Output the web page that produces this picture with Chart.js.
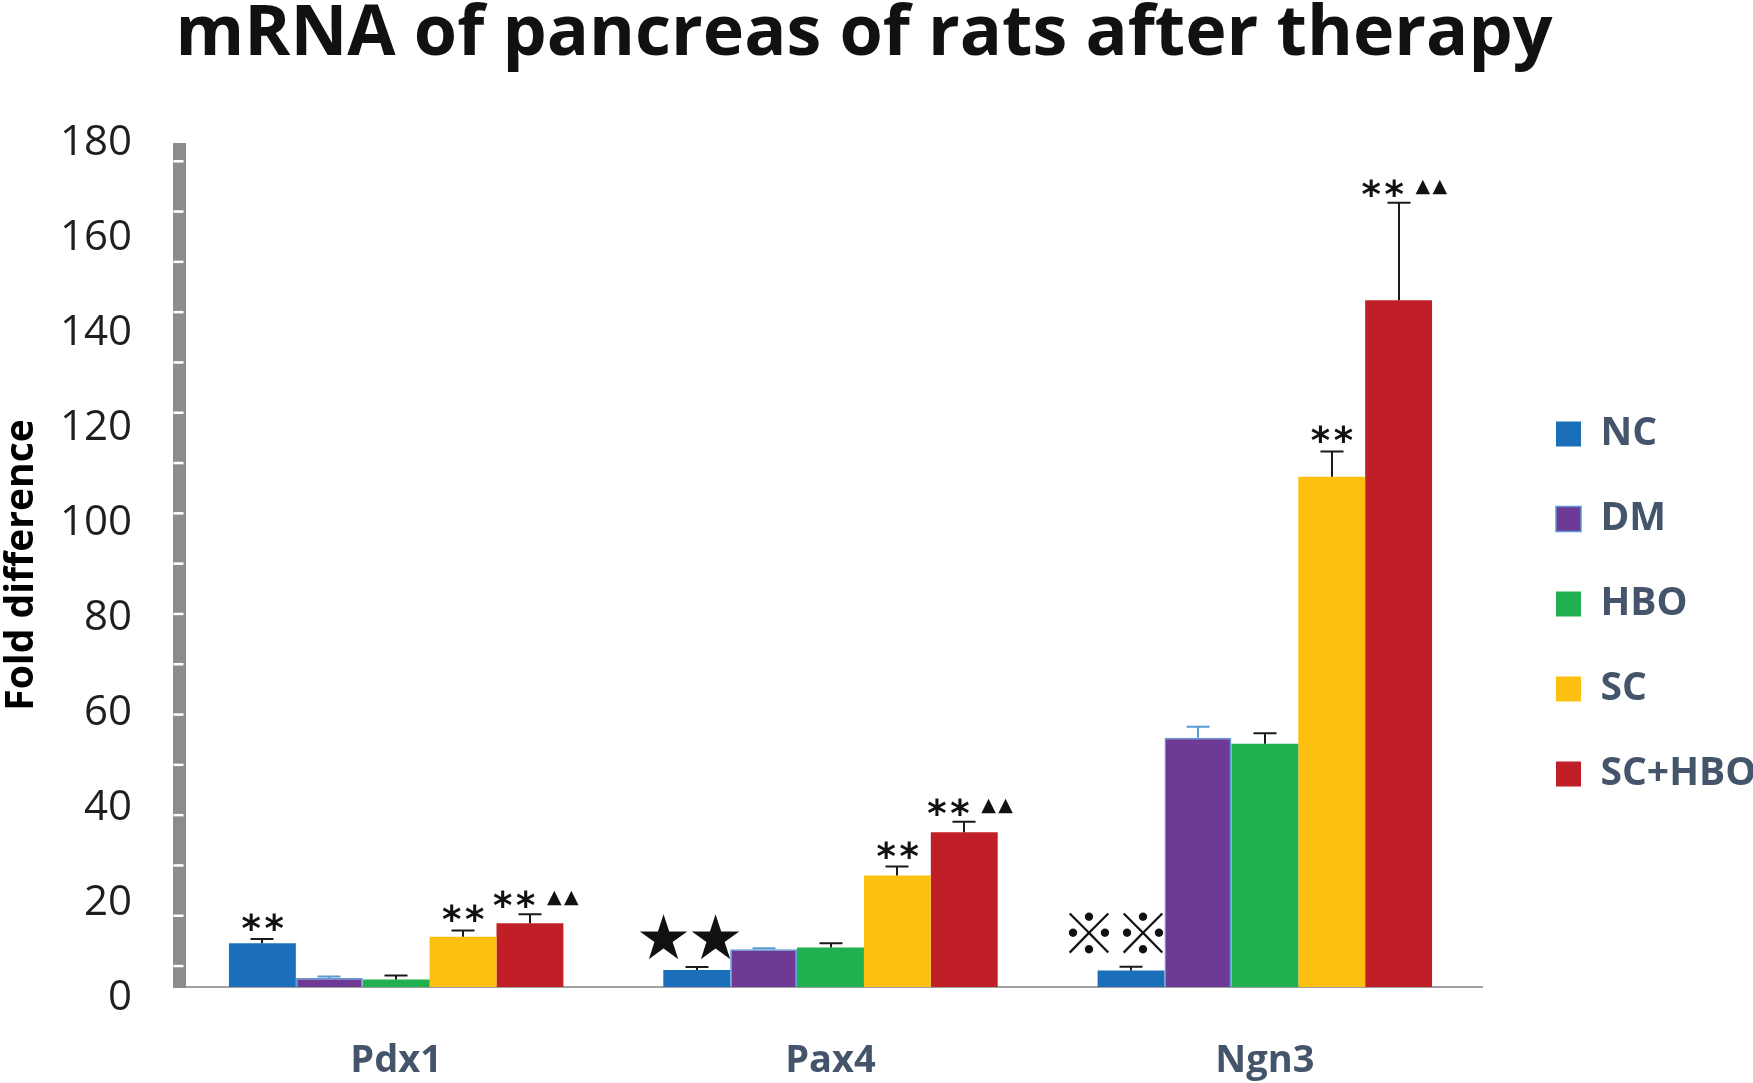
<!DOCTYPE html>
<html><head><meta charset="utf-8">
<script src="https://cdn.jsdelivr.net/npm/chart.js@4.4.1/dist/chart.umd.min.js"></script>
<style>html,body{margin:0;padding:0;background:#fff;} canvas{display:block;}</style>
</head><body>
<canvas id="c" width="1753" height="1083"></canvas>
<script>
// ---- data ----
const categories = ['Pdx1', 'Pax4', 'Ngn3'];
const seriesNames = ['NC', 'DM', 'HBO', 'SC', 'SC+HBO'];
const valNC    = [11.5, 5.9, 5.75];
const valDM    = [4.2, 10.25, 54.8];
const valHBO   = [3.9, 10.6, 53.5];
const valSC    = [12.9, 25.75, 109.75];
const valSCHBO = [15.7, 34.9, 146.9];
const errNC    = [0.9, 0.6, 0.8];
const errDM    = [0.3, 0.2, 2.3];
const errHBO   = [0.8, 0.9, 2.2];
const errSC    = [1.3, 1.9, 5.3];
const errSCHBO = [1.9, 2.2, 20.5];
const sigNC    = ['**', '★★', '※※'];
const sigDM    = ['', '', ''];
const sigHBO   = ['', '', ''];
const sigSC    = ['**', '**', '**'];
const sigSCHBO = ['**▲▲', '**▲▲', '**▲▲'];
const yTicks   = [0, 20, 40, 60, 80, 100, 120, 140, 160, 180];

// ---- styles ----
const colors = ['#1b6fba', '#6f3996', '#21b04f', '#fdc010', '#c11f27'];
const errColors = ['#1a1a1a', '#5b9bd5', '#1a1a1a', '#1a1a1a', '#1a1a1a'];
const values = [valNC, valDM, valHBO, valSC, valSCHBO];
const errors = [errNC, errDM, errHBO, errSC, errSCHBO];
const sigs = [sigNC, sigDM, sigHBO, sigSC, sigSCHBO];

const datasets = seriesNames.map((name, i) => ({
  label: name,
  data: values[i],
  errors: errors[i],
  sig: sigs[i],
  errColor: errColors[i],
  backgroundColor: colors[i],
  borderColor: i === 1 ? '#5b9bd5' : colors[i],
  borderWidth: i === 1 ? 1.5 : 0,
  categoryPercentage: 0.77,
  barPercentage: 1.0
}));

const glyphStyle = {
  '*': { font: 'bold 37px "DejaVu Sans"', step: 23 },
  '▲': { font: '19px "DejaVu Sans"', step: 17 },
  '★': { font: '62px "DejaVu Sans"', step: 52 },
  '※': { font: '56px "Noto Sans CJK SC"', step: 54 }
};

function drawGlyph(ctx, ch, cx, cy) {
  const st = glyphStyle[ch];
  ctx.font = st.font;
  ctx.textAlign = 'left';
  ctx.textBaseline = 'alphabetic';
  const m = ctx.measureText(ch);
  const w = m.actualBoundingBoxRight + m.actualBoundingBoxLeft;
  const x = cx - w / 2 + m.actualBoundingBoxLeft;
  const y = cy + (m.actualBoundingBoxAscent - m.actualBoundingBoxDescent) / 2;
  ctx.fillText(ch, x, y);
  return w;
}

function groups(s) {
  const out = [];
  for (const ch of s) {
    if (out.length && out[out.length - 1].ch === ch) out[out.length - 1].n++;
    else out.push({ ch, n: 1 });
  }
  return out;
}

const sigPlugin = {
  id: 'sig',
  beforeDatasetsDraw(chart) {
    const ctx = chart.ctx;
    const yScale = chart.scales.y;
    ctx.save();
    ctx.fillStyle = '#111';
    chart.data.datasets.forEach((ds, di) => {
      const meta = chart.getDatasetMeta(di);
      meta.data.forEach((bar, j) => {
        const s = ds.sig[j];
        if (!s) return;
        const capY = yScale.getPixelForValue(ds.data[j] + ds.errors[j]);
        const g = groups(s);
        const main = g[0];
        let dx = 0, dy = -17;
        if (main.ch === '★') { dx = -7; dy = -30; }
        if (main.ch === '※') { dx = -15; dy = -34; }
        if (g.length > 1) { dx = -16; dy = -15; }
        const cy = capY + dy;
        const st = glyphStyle[main.ch];
        const c0 = bar.x + dx - (main.n - 1) * st.step / 2;
        let right = 0;
        for (let k = 0; k < main.n; k++) {
          const w = drawGlyph(ctx, main.ch, c0 + k * st.step, cy);
          right = c0 + k * st.step + w / 2;
        }
        if (g.length > 1) {
          const t = g[1];
          const ts = glyphStyle[t.ch];
          ctx.font = ts.font;
          const tw = ctx.measureText(t.ch);
          const half = (tw.actualBoundingBoxRight + tw.actualBoundingBoxLeft) / 2;
          const start = right + 12 + half;
          for (let k = 0; k < t.n; k++) drawGlyph(ctx, t.ch, start + k * ts.step, cy - 1);
        }
      });
    });
    ctx.restore();
  }
};

const errPlugin = {
  id: 'errbars',
  afterDatasetsDraw(chart) {
    const ctx = chart.ctx;
    const yScale = chart.scales.y;
    ctx.save();
    ctx.lineWidth = 2;
    chart.data.datasets.forEach((ds, di) => {
      const meta = chart.getDatasetMeta(di);
      ctx.strokeStyle = ds.errColor;
      meta.data.forEach((bar, j) => {
        const yTop = yScale.getPixelForValue(ds.data[j] + ds.errors[j]);
        const x = Math.round(bar.x);
        ctx.beginPath();
        ctx.moveTo(x, bar.y);
        ctx.lineTo(x, yTop);
        ctx.moveTo(x - 11.5, yTop);
        ctx.lineTo(x + 11.5, yTop);
        ctx.stroke();
      });
    });
    ctx.restore();
  }
};

// thin white notches on the thick y-axis bar, as in the reference
const axisNotchPlugin = {
  id: 'axisNotch',
  afterDraw(chart) {
    const ctx = chart.ctx;
    const ys = chart.scales.y;
    const x = ys.right;
    ctx.save();
    ctx.fillStyle = '#ffffff';
    ctx.fillRect(x - 8, ys.top - 8, 16, 8);
    for (let p = ys.top + 17; p < ys.bottom - 10; p += 50.3) {
      ctx.fillRect(x - 5.5, p, 10, 2.5);
    }
    ctx.restore();
  }
};

new Chart(document.getElementById('c'), {
  type: 'bar',
  data: { labels: categories, datasets },
  plugins: [sigPlugin, errPlugin, axisNotchPlugin],
  options: {
    responsive: false,
    devicePixelRatio: 1,
    animation: false,
    layout: { padding: { left: -25, right: 0, top: 0, bottom: 0 } },
    plugins: {
      tooltip: { enabled: false },
      title: {
        display: true,
        text: 'mRNA of pancreas of rats after therapy',
        color: '#111',
        font: { family: 'Open Sans', size: 70, weight: 'bold', lineHeight: 1 },
        padding: { top: 0, bottom: 73 }
      },
      legend: {
        position: 'right',
        maxWidth: 243,
        title: { display: true, text: '', font: { size: 10, lineHeight: 1.2 }, padding: { top: 0, bottom: 113 } },
        labels: {
          boxWidth: 25,
          boxHeight: 25,
          padding: 46,
          color: '#44546a',
          font: { family: 'Open Sans', size: 39, weight: 'bold' }
        }
      }
    },
    scales: {
      x: {
        grid: { display: false, drawTicks: false },
        border: { display: true, color: '#a0a0a0', width: 2 },
        ticks: {
          color: '#44546a',
          padding: 51,
          font: { family: 'Open Sans', size: 38, weight: 'bold' }
        },
        afterFit(s) { s.height = 96; }
      },
      y: {
        min: 2.3,
        max: 180,
        grid: { display: false, drawTicks: false },
        border: { display: true, color: '#8c8c8c', width: 13 },
        afterBuildTicks(s) { s.ticks = yTicks.map(v => ({ value: v })); },
        ticks: {
          color: '#1e1e1e',
          padding: 47,
          font: { family: 'Open Sans', size: 42 }
        },
        title: {
          display: true,
          text: 'Fold difference',
          color: '#000',
          padding: { top: 23, bottom: 0 },
          font: { family: 'Open Sans', size: 39, weight: 'bold' }
        },
        afterFit(s) { s.width = 204; }
      },
      yPad: {
        type: 'linear',
        position: 'right',
        display: true,
        grid: { display: false, drawTicks: false },
        border: { display: false },
        ticks: { display: false },
        afterFit(s) { s.width = 28; }
      }
    }
  }
});
</script>
</body></html>
